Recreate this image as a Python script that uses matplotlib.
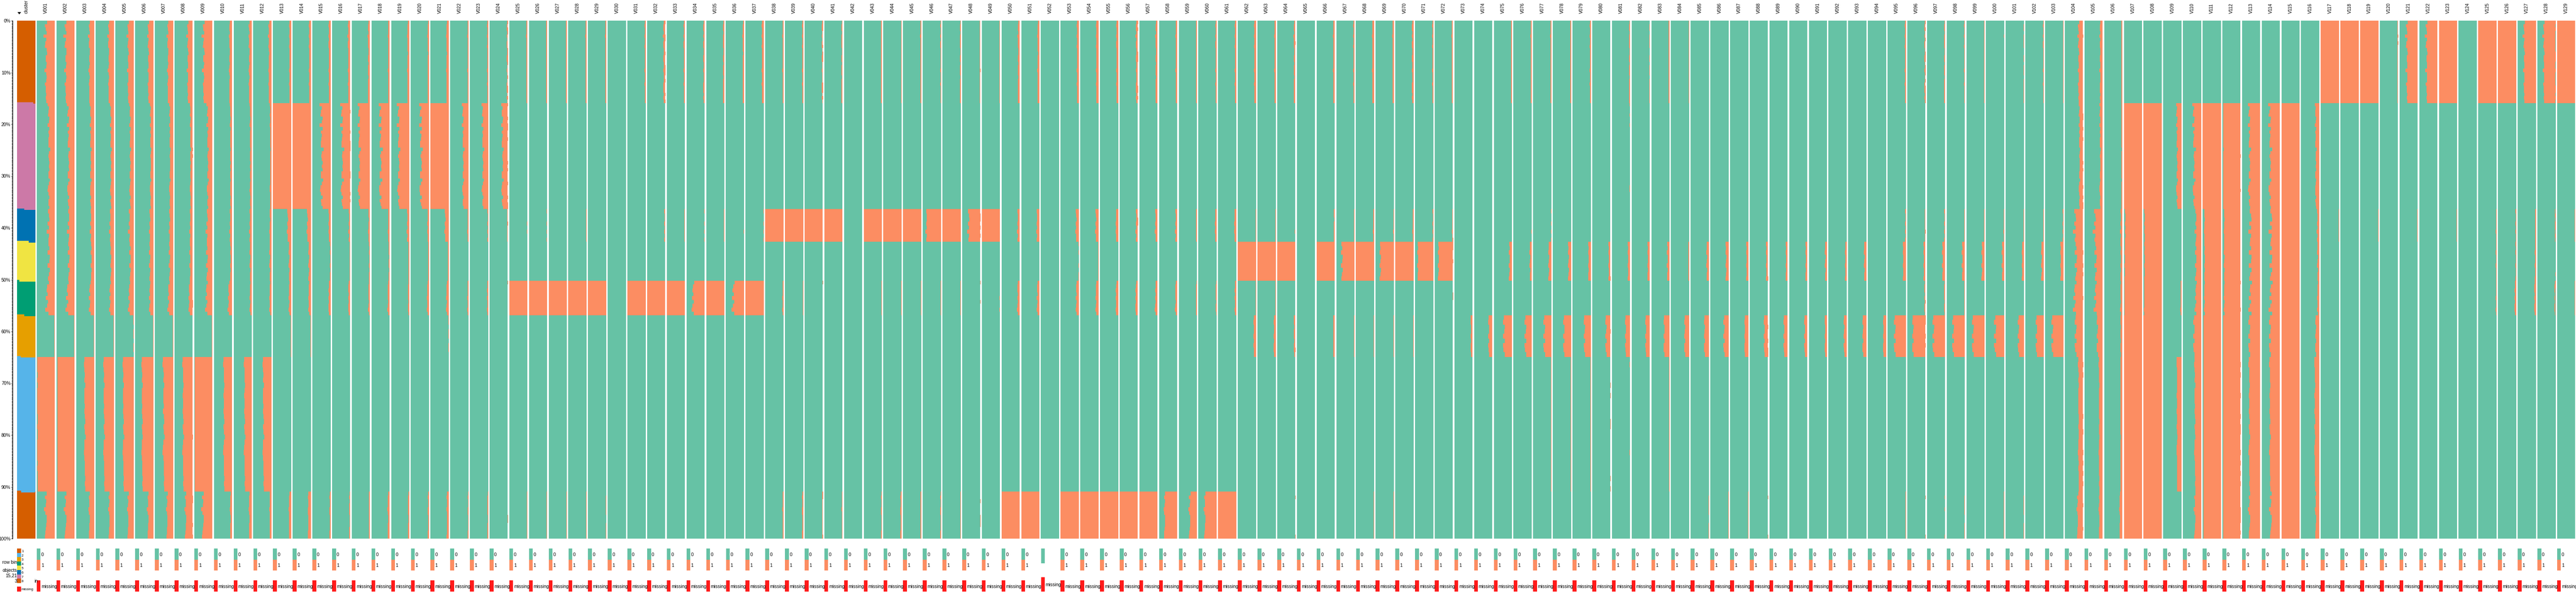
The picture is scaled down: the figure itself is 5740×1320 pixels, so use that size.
import matplotlib
matplotlib.use("Agg")
import matplotlib.pyplot as plt
from matplotlib.patches import Rectangle
import numpy as np

plt.rcParams['font.family'] = ['Liberation Sans', 'DejaVu Sans']

# cluster order and boundaries, top to bottom (percent of rows)
cluster_ids = [8, 7, 6, 5, 4, 3, 2, 1]
cluster_edges = [0, 15.9, 36.4, 42.7, 50.2, 56.9, 64.9, 90.9, 100]
cluster_colors = {1: '#D55E00', 2: '#56B4E9', 3: '#E69F00', 4: '#009E73',
                  5: '#F0E442', 6: '#0072B2', 7: '#CC79A7', 8: '#D55E00'}
# share of the lower (left-hand) cluster inside the mixed bin at each boundary
boundary_mix = [.88, .40, .65, .12, .40, .20, .22]

# share of level "1" per variable, in cluster order 8,7,6,5,4,3,2,1
rates = [
 [.50,.34,.36,.34,.42,.03,.96,.50],[.50,.35,.34,.33,.40,.03,.95,.50],[.28,.20,.20,.17,.25,.03,.53,.28],
 [.30,.18,.22,.18,.22,.02,.55,.27],[.31,.20,.25,.20,.25,.01,.57,.31],[.28,.16,.20,.20,.20,.01,.62,.30],
 [.29,.18,.20,.20,.25,.02,.52,.33],[.28,.13,.15,.15,.20,.01,.53,.39],[.49,.27,.30,.30,.32,.03,.98,.53],
 [.15,.10,.12,.10,.20,.01,.45,.10],[.15,.10,.12,.10,.10,.01,.40,.15],[.15,.08,.10,.10,.10,0,.45,.10],
 [.10,1,.20,.12,.12,.02,0,.12],[.10,1,.20,.12,.12,.02,0,.15],[.10,.50,.10,.03,.10,0,0,.05],
 [.12,.45,.08,.03,.10,0,0,.05],[.10,.60,.08,.05,.08,.01,0,.06],[.08,.50,.08,.05,.10,0,0,.10],
 [.10,.60,.12,.05,.07,.01,0,.07],[.07,.45,.08,.05,.10,.01,0,.06],[.12,1,.20,.05,.12,.01,0,.10],
 [.05,.30,.05,0,.05,0,0,.03],[.05,.30,.03,0,.05,0,0,.03],[.05,.30,.03,0,.02,0,0,.02],
 [.06,0,.02,0,1,0,0,.03],[.05,0,.02,0,1,0,0,.03],[.05,0,.01,0,1,0,0,.03],[.05,0,.02,0,1,0,0,.03],
 [.05,0,0,0,1,0,0,.01],[0,0,0,0,0,0,0,0],[.05,0,0,0,1,0,0,0],
 [.10,0,.05,0,1,0,0,0],[.07,0,.03,0,1,0,0,0],[.07,0,.02,0,.65,0,0,0],[.07,0,.02,0,1,0,0,0],
 [.07,0,.01,0,.60,0,0,0],[.10,0,.01,0,1,0,0,0],[.05,0,1,0,.05,0,0,.05],[.05,0,1,0,.02,0,0,.05],
 [.05,0,1,0,.02,0,0,.04],[.05,0,1,0,.01,0,0,.04],[0,0,0,0,0,0,0,0],[.05,0,1,0,.02,0,0,.04],
 [.02,0,1,0,.02,0,0,.06],[.05,0,1,0,.02,0,0,.04],[.03,0,.80,0,.02,0,0,.03],[.03,0,1,0,.02,0,0,.01],
 [.03,0,.65,0,.02,0,0,.01],[.03,0,1,0,.02,0,0,0],[.10,0,.12,.01,.12,0,0,1],[.10,0,.15,.01,.12,0,0,1],
 [0,0,0,0,0,0,0,0],[.10,0,.15,.01,.14,0,0,1],[.12,0,.15,.01,.14,0,0,1],[.10,0,.12,0,.12,0,0,1],
 [.10,0,.10,0,.12,0,0,1],[.10,0,.12,0,.12,0,0,1],[.08,0,.10,0,.10,0,0,.70],[.05,0,.05,0,.05,0,0,.40],
 [.06,0,.08,0,.04,0,0,.65],[.08,0,.10,0,.08,0,0,1],[.10,0,.02,1,.02,.12,0,0],[.07,0,.02,1,.01,.10,0,0],
 [.08,0,.02,1,0,.08,0,.01],[0,0,0,0,0,0,0,0],[.08,0,.05,1,0,.08,0,.01],[.06,0,.03,.70,.01,.03,0,0],
 [.10,0,.05,1,0,.02,0,.02],[.07,0,.03,.75,0,.02,0,.02],[.08,0,.05,1,0,.02,0,0],[.05,0,.03,.85,0,0,0,0],
 [.06,0,.04,.80,.02,0,0,.02],[0,0,0,0,0,.10,0,0],[0,0,0,.01,0,.20,.01,.01],[.05,0,0,.15,0,.45,.01,0],
 [.05,0,.01,.10,0,.35,.01,0],[.05,0,.01,.15,0,.40,.02,0],[.04,0,0,.15,0,.40,.01,0],[.05,0,0,.13,0,.35,.01,0],
 [0,0,0,.10,0,.25,.01,0],[.05,.02,0,.12,0,.25,.02,0],[.02,0,0,.12,0,.22,.01,0],[.05,0,0,.12,0,.30,.02,0],
 [.02,0,0,.05,0,.25,0,.01],[0,0,0,.12,0,.25,0,.01],[0,0,0,.15,0,.25,0,.01],[0,0,0,.10,0,.20,0,.01],
 [0,0,0,.10,0,.20,0,.01],[0,0,0,.10,0,.20,0,0],[0,0,0,.10,0,.15,0,0],[0,0,0,.10,0,.12,0,0],
 [0,0,0,.08,0,.15,0,0],[0,0,0,.12,0,.20,0,0],[0,0,0,0,0,.15,0,0],[.05,0,.03,.15,0,.60,0,.01],
 [.05,0,.03,.10,.05,.70,0,.01],[.05,0,.05,.15,.05,.65,0,.02],[.04,0,.03,.15,.03,.65,0,.02],
 [.03,0,.03,.15,0,.65,0,.01],[.01,0,.03,.12,0,.50,0,.02],[.01,0,.02,.10,0,.30,0,.01],[.03,0,.01,.12,0,.40,0,0],
 [.01,0,.03,.15,0,.60,0,0],[.25,.20,.45,.40,.45,.40,.25,.30],[.15,.15,.45,.40,.40,.30,.20,.20],
 [.05,.05,.10,.10,.10,.10,.10,.15],[0,1,.93,.95,.97,1,1,1],[0,1,.95,.95,.97,1,1,1],[0,.25,0,0,.05,0,.25,0],
 [0,.40,.30,.30,.30,.40,.35,.35],[0,1,.90,.90,.90,.95,.95,.95],[0,.95,.90,.90,.90,.95,.95,.95],
 [0,.60,.55,.55,.55,.60,.60,.60],[0,.55,.50,.50,.50,.55,.55,.50],[0,1,1,1,1,1,1,1],[0,.20,.12,.10,.10,.20,.25,.20],
 [1,0,.02,0,0,0,0,0],[1,0,0,0,0,0,0,0],[1,0,.02,0,0,0,0,0],[.03,0,0,0,0,0,0,0],[.60,0,.03,0,0,0,0,0],
 [.60,0,.01,0,0,0,0,0],[1,0,.03,0,0,0,0,0],[0,0,0,0,0,0,0,0],[1,0,.03,.03,.03,0,0,0],[1,0,.03,.03,.08,0,0,0],
 [.65,0,.04,.05,.08,0,0,0],[.65,0,.03,.02,.05,0,0,0],[1,0,.03,0,.03,0,0,0],
]

# relative edge along the rows of each cluster, read from the V001/V003/V095 edges
edge_c8 = [.88,1.10,1.01,.92,1.24,.96,1.04,1.10,.92,.88,1.01,1.01,.92,.96,1.16,.96,.92,.96,1.10,1.01,1.01,.96,1.01,.96]
edge_c7 = [1.22,.95,1.08,1.14,.88,.95,1.22,.88,1.08,.95,1.01,1.08,1.08,.75,.95,1.04,.95,.88,.95,.88,1.08,1.08,.81,.99,1.14,1.17,1.08,.88,1.08,1.01,.88]
edge_c6 = [1.05,.92,.86,1.09,.92,1.24,.92,.99]
edge_c5 = [1.04,.91,1.16,.85,.91,1.16,.85,.98,1.10]
edge_c4 = [.80,1.00,1.08,.94,1.17,.88,1.04,1.23,.85]
edge_c3 = [1.00,1.12,.88,.94,1.12,.88,1.12,1.06,.88]
edge_c2 = [1.06,1.11,1.02,.98,1.02,.93,1.02,1.04,1.02,1.00,1.06,.98,.93,1.04,.98,.89,1.02,1.06,1.11,1.02,.98,1.00,.98,.93,.98,.93]
edge_c1 = [.89,1.09,.95,1.00,1.18,1.05,.91,.91,.95,1.00,1.05,1.09]
edge_rows = [edge_c8, edge_c7, edge_c6, edge_c5, edge_c4, edge_c3, edge_c2, edge_c1]

var_names = [f"V{i:03d}" for i in range(1, len(rates) + 1)]
single_level_vars = ["V052"]
y_ticks = list(range(0, 101, 10))

TEAL, ORANGE, RED = '#66C2A5', '#FC8D62', '#FF1A1A'
W, H = 5740, 1320
X0, PITCH, BW = 38.0, 43.875, 40.5
FS = 7.4

fig = plt.figure(figsize=(W / 100, H / 100), dpi=100, facecolor='white')
T, B = 46, 1201
ax = fig.add_axes([X0 / W, 1 - B / H, (W - X0) / W, (B - T) / H])
ax.set_xlim(0, (W - X0) / PITCH)
ax.set_ylim(100, 0)
for s in ('top', 'right', 'bottom'):
    ax.spines[s].set_visible(False)
ax.spines['left'].set_position(('outward', 7.2))
ax.spines['left'].set_linewidth(0.9)
ax.set_xticks([])
ax.set_yticks(y_ticks)
ax.set_yticklabels([f"{v}%" for v in y_ticks], fontsize=FS)
ax.set_yticks(np.arange(0, 100.01, 0.2), minor=True)
ax.tick_params(axis='y', which='major', length=2.2, width=0.8, pad=1)
ax.tick_params(axis='y', which='minor', length=1.3, width=0.7)

w = BW / PITCH
tops = cluster_edges[:-1]
heights = [b - a for a, b in zip(cluster_edges[:-1], cluster_edges[1:])]
ax.barh(tops, [w] * 8, height=heights, left=0, align='edge',
        color=[cluster_colors[c] for c in cluster_ids], linewidth=0)
# mixed bin at each cluster boundary
for k, f in enumerate(boundary_mix):
    e = cluster_edges[k + 1]
    ax.barh([e - .15], [w * f], height=[.3], left=0, align='edge',
            color=cluster_colors[cluster_ids[k + 1]], linewidth=0)
    ax.barh([e - .15], [w * (1 - f)], height=[.3], left=w * f, align='edge',
            color=cluster_colors[cluster_ids[k]], linewidth=0)


def local_rate(r, m):
    if r <= 0 or r >= 1:
        return r
    v = r * m if r < .5 else 1 - (1 - r) * (2 - m)
    return min(max(v, 0), 1)


for i, row in enumerate(rates):
    x = i + 1
    ax.barh([0], [w], height=[100], left=x, align='edge', color=TEAL, linewidth=0)
    ys, hs, rs = [], [], []
    for k, r in enumerate(row):
        if r == 0:
            continue
        prof = edge_rows[k]
        dh = heights[k] / len(prof)
        for j, m in enumerate(prof):
            ys.append(tops[k] + j * dh)
            hs.append(dh)
            rs.append(local_rate(r, m))
    if ys:
        rs = np.array(rs)
        ax.barh(ys, rs * w, height=hs, left=x + w * (1 - rs), align='edge',
                color=ORANGE, linewidth=0)

# pixel overlay for headers and legends
px = fig.add_axes([0, 0, 1, 1], facecolor='none')
px.set_xlim(0, W); px.set_ylim(H, 0); px.axis('off')
px.text(58.5, 30, 'cluster', rotation=90, ha='center', va='bottom', fontsize=FS)
px.fill([39, 47, 43], [27, 27, 32], color='black', lw=0)
for c, cid in enumerate(cluster_ids[::-1]):
    y = 1223 + c * 9.6
    px.add_patch(Rectangle((38, y), 9, 9.6, color=cluster_colors[cid], lw=0))
    px.text(48, y + 6.5, str(cid), fontsize=5.8, va='center')
px.add_patch(Rectangle((38, 1308), 9, 11, color=RED, lw=0))
px.text(48, 1314, 'missing', fontsize=5.8, va='center')
for s, y in (('row bin', 1254), ('objects', 1272), ('15,21', 1283), ('3', 1296)):
    px.text(38, y, s, fontsize=FS, ha='right', va='center')
px.text(76, 1296, 'in', fontsize=FS, va='center')

for i, name in enumerate(var_names):
    xl = X0 + (i + 1) * PITCH
    px.text(xl + BW / 2, 30, name, rotation=90, ha='center', va='bottom', fontsize=FS)
    if name in single_level_vars:
        px.add_patch(Rectangle((xl, 1223), 8.5, 33, color=TEAL, lw=0))
        px.add_patch(Rectangle((xl, 1287), 8.5, 32, color=RED, lw=0))
        px.text(xl + 10, 1304, 'missing', fontsize=FS, va='center')
    else:
        px.add_patch(Rectangle((xl, 1223), 8.5, 24.5, color=TEAL, lw=0))
        px.add_patch(Rectangle((xl, 1247.5), 8.5, 24.5, color=ORANGE, lw=0))
        px.add_patch(Rectangle((xl, 1294), 8.5, 25, color=RED, lw=0))
        px.text(xl + 10, 1237, '0', fontsize=FS, va='center')
        px.text(xl + 10, 1261, '1', fontsize=FS, va='center')
        px.text(xl + 10, 1308, 'missing', fontsize=FS, va='center')

fig.savefig('out.png', dpi=100)
